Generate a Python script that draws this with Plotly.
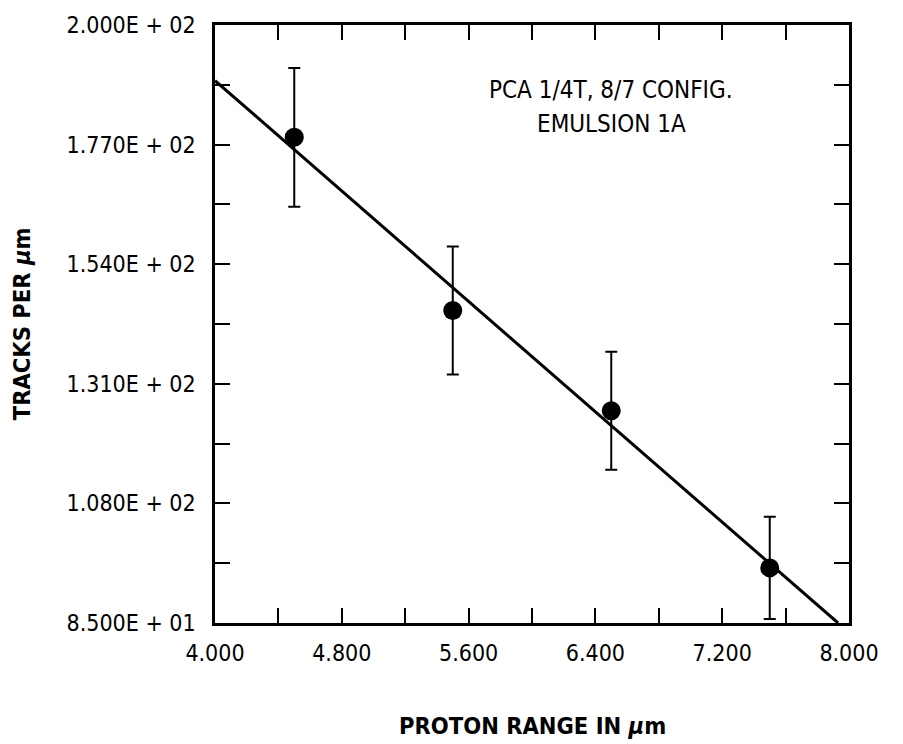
import plotly.graph_objects as go

# Data
range_um = [4.5, 5.5, 6.5, 7.5]
tracks = [178.4, 145.1, 125.8, 95.6]
tracks_err = [13.35, 12.3, 11.35, 9.85]

fit_x = [4.0, 7.931]
fit_y = [189.3, 85.0]

x_tickvals = [4.0, 4.4, 4.8, 5.2, 5.6, 6.0, 6.4, 6.8, 7.2, 7.6, 8.0]
x_ticktext = ["4.000", "", "4.800", "", "5.600", "", "6.400", "", "7.200", "", "8.000"]
y_tickvals = [85.0, 96.5, 108.0, 119.5, 131.0, 142.5, 154.0, 165.5, 177.0, 188.5, 200.0]
y_ticktext = ["8.500E + 01", "", "1.080E + 02", "", "1.310E + 02", "",
              "1.540E + 02", "", "1.770E + 02", "", "2.000E + 02"]

FONT = "DejaVu Sans Condensed, Tahoma, DejaVu Sans, sans-serif"

fig = go.Figure()
fig.add_trace(go.Scatter(x=fit_x, y=fit_y, mode="lines",
                         line=dict(color="black", width=3), showlegend=False))
fig.add_trace(go.Scatter(x=range_um, y=tracks, mode="markers",
                         marker=dict(color="black", size=19),
                         error_y=dict(type="data", array=tracks_err, visible=True,
                                      color="black", thickness=2, width=6),
                         showlegend=False))

axis_common = dict(showgrid=False, zeroline=False, showline=True, linecolor="black",
                   linewidth=2.5, mirror="ticks", ticks="inside", ticklen=15,
                   tickwidth=2, tickcolor="black",
                   tickfont=dict(family=FONT, size=23, color="black"))

fig.update_xaxes(range=[4.0, 8.0], tickvals=x_tickvals, ticktext=x_ticktext,
                 ticklabelstandoff=8, **axis_common)
fig.update_yaxes(range=[85.0, 200.0], tickvals=y_tickvals, ticktext=y_ticktext,
                 ticklabelstandoff=12, **axis_common)

fig.add_annotation(text="<b>PROTON RANGE IN <i>μ</i>m</b>", xref="paper", yref="paper",
                   x=0.5, y=-0.173, showarrow=False, xanchor="center", yanchor="middle",
                   font=dict(family=FONT, size=23.5, color="black"))
fig.add_annotation(text="<b>TRACKS PER <i>μ</i>m</b>", xref="paper", yref="paper",
                   x=-0.304, y=0.5, showarrow=False, textangle=-90,
                   xanchor="center", yanchor="middle",
                   font=dict(family=FONT, size=23.5, color="black"))
fig.add_annotation(text="PCA 1/4T, 8/7 CONFIG.", xref="paper", yref="paper",
                   x=0.625, y=0.892, showarrow=False, xanchor="center", yanchor="middle",
                   font=dict(family=FONT, size=24, color="black"))
fig.add_annotation(text="EMULSION 1A", xref="paper", yref="paper",
                   x=0.625, y=0.835, showarrow=False, xanchor="center", yanchor="middle",
                   font=dict(family=FONT, size=24, color="black"))

fig.update_layout(width=903, height=744, margin=dict(l=215, r=54, t=23, b=121),
                  plot_bgcolor="white", paper_bgcolor="white")

fig.write_html("out.html", config={"displayModeBar": False},
               post_script="document.body.style.margin='0';document.body.style.overflow='hidden';")
